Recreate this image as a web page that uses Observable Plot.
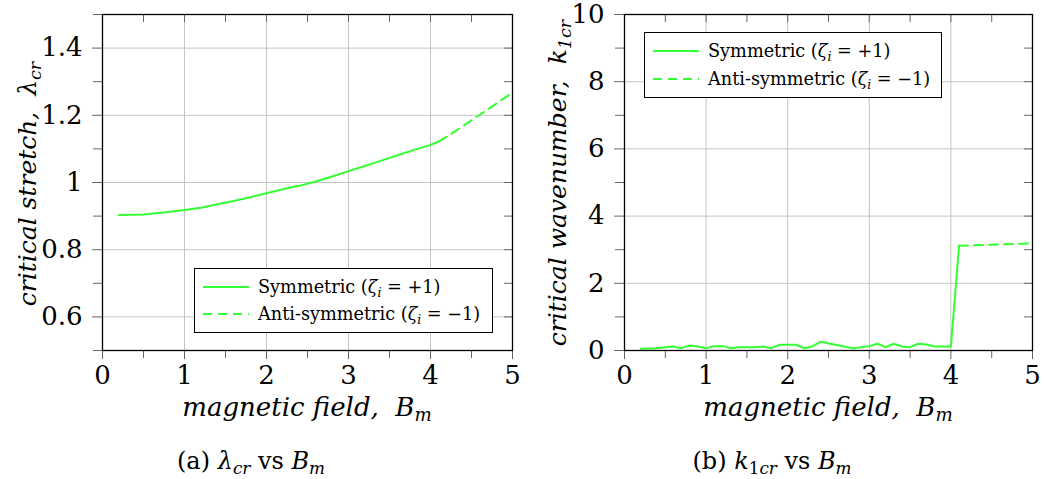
<!DOCTYPE html>
<html>
<head>
<meta charset="utf-8">
<script src="https://cdn.jsdelivr.net/npm/d3@7"></script>
<script src="https://cdn.jsdelivr.net/npm/@observablehq/plot@0.6"></script>
<style>
  body { margin: 0; background: #fff; }
  #wrap { position: relative; width: 1044px; height: 479px; overflow: hidden; font-family: "DejaVu Serif", serif; color: #000; }
  .panel { position: absolute; top: 0; }
  .xlab, .ylab, .cap { position: absolute; white-space: nowrap; line-height: 1; }
  .xlab { font-style: italic; font-size: 26px; transform: translateX(-50%); }
  .ylab { font-style: italic; font-size: 25px; transform: translate(-50%, -50%) rotate(-90deg); }
  .cap { font-size: 24px; transform: translateX(-50%); }
  sub { font-size: 70%; vertical-align: -0.3em; line-height: 0; }
  .legend { position: absolute; border: 1.3px solid #000; background: #fff; font-size: 17.7px; box-sizing: border-box; }
  .legend .row { position: absolute; left: 0; display: flex; align-items: center; white-space: nowrap; }
  .legend svg { display: block; margin-left: 8px; margin-right: 9px; }
</style>
</head>
<body>
<div id="wrap"></div>
<script>
// ---- data ----
const xTicks = [0, 1, 2, 3, 4, 5];
const xMinor = [0.5, 1.5, 2.5, 3.5, 4.5];

// panel (a): critical stretch lambda_cr vs B_m
const yTicksA = [0.6, 0.8, 1, 1.2, 1.4];
const yMinorA = [0.5, 0.7, 0.9, 1.1, 1.3, 1.5];
const bSymA = [0.2, 0.5, 0.8, 1.0, 1.2, 1.4, 1.6, 1.8, 2.0, 2.2, 2.3, 2.4, 2.6, 2.8, 3.0, 3.2, 3.4, 3.6, 3.8, 4.0, 4.1];
const lamSym = [0.903, 0.905, 0.912, 0.918, 0.925, 0.935, 0.945, 0.956, 0.968, 0.980, 0.986, 0.990, 1.003, 1.018, 1.034, 1.049, 1.065, 1.081, 1.097, 1.112, 1.122];
const bAntiA = [4.1, 4.3, 4.5, 4.7, 4.9, 5.0];
const lamAnti = [1.122, 1.152, 1.185, 1.218, 1.251, 1.268];

// panel (b): critical wavenumber k_1cr vs B_m
const yTicksB = [0, 2, 4, 6, 8, 10];
const yMinorB = [1, 3, 5, 7, 9];
const bSymB = [0.2, 0.38, 0.5, 0.6, 0.7, 0.8, 0.9, 1.0, 1.1, 1.2, 1.3, 1.4, 1.5, 1.6, 1.7, 1.8, 1.9, 2.0, 2.1, 2.2, 2.3, 2.4, 2.8, 3.0, 3.1, 3.2, 3.3, 3.4, 3.5, 3.6, 3.7, 3.8, 4.0, 4.1];
const kSym = [0.05, 0.07, 0.10, 0.12, 0.07, 0.15, 0.12, 0.07, 0.13, 0.13, 0.07, 0.10, 0.10, 0.10, 0.12, 0.07, 0.17, 0.17, 0.17, 0.07, 0.12, 0.26, 0.07, 0.13, 0.20, 0.10, 0.20, 0.12, 0.10, 0.20, 0.18, 0.12, 0.12, 3.12];
const bAntiB = [4.1, 4.5, 5.0];
const kAnti = [3.12, 3.15, 3.19];

const seriesNames = ["Symmetric", "Anti-symmetric"];
const green = "#33ff33";
const SERIF = "'DejaVu Serif', serif";

function rows(xs, ys) { return xs.map((x, i) => ({B: x, v: ys[i]})); }

function panel({yDomain, yTicks, yMinor, sym, anti, marginLeft}) {
  const tickStroke = "#666";
  const txt = {fontFamily: SERIF, fontSize: 26, fill: "#000"};
  return Plot.plot({
    width: 520, height: 400,
    marginLeft, marginRight: 8, marginTop: 14, marginBottom: 50,
    style: {fontFamily: SERIF, color: "#000", background: "transparent", overflow: "visible"},
    x: {domain: [0, 5]},
    y: {domain: yDomain},
    marks: [
      Plot.gridX(xTicks, {stroke: "#c4c4c4", strokeOpacity: 1, strokeWidth: 1}),
      Plot.gridY(yTicks, {stroke: "#c4c4c4", strokeOpacity: 1, strokeWidth: 1}),
      // bottom & left ticks (outside), with labels on majors
      Plot.axisX(xTicks, {anchor: "bottom", tickSize: 9, tickPadding: 6, ...txt, stroke: tickStroke, tickFormat: d => String(d), label: null}),
      Plot.axisX(xMinor, {anchor: "bottom", tickSize: 8, stroke: tickStroke, tickFormat: () => "", label: null}),
      Plot.axisY(yTicks, {anchor: "left", tickSize: 10, tickPadding: 10, ...txt, stroke: tickStroke, tickFormat: d => String(d), label: null}),
      Plot.axisY(yMinor, {anchor: "left", tickSize: 9, stroke: tickStroke, tickFormat: () => "", label: null}),
      // top & right ticks (inside)
      Plot.axisX(xTicks.concat(xMinor), {anchor: "top", tickSize: -7, stroke: tickStroke, tickFormat: () => "", label: null}),
      Plot.axisY(yTicks.concat(yMinor), {anchor: "right", tickSize: -9, stroke: tickStroke, tickFormat: () => "", label: null}),
      Plot.line(sym, {x: "B", y: "v", stroke: green, strokeWidth: 2}),
      Plot.line(anti, {x: "B", y: "v", stroke: green, strokeWidth: 2, strokeDasharray: "9,6"}),
      Plot.frame({stroke: "#000", strokeWidth: 1.3})
    ]
  });
}

const wrap = document.getElementById("wrap");

const pA = panel({yDomain: [0.5, 1.5], yTicks: yTicksA, yMinor: yMinorA, sym: rows(bSymA, lamSym), anti: rows(bAntiA, lamAnti), marginLeft: 102});
const dA = document.createElement("div"); dA.className = "panel"; dA.style.left = "0px"; dA.appendChild(pA); wrap.appendChild(dA);

const pB = panel({yDomain: [0, 10], yTicks: yTicksB, yMinor: yMinorB, sym: rows(bSymB, kSym), anti: rows(bAntiB, kAnti), marginLeft: 104});
const dB = document.createElement("div"); dB.className = "panel"; dB.style.left = "520px"; dB.appendChild(pB); wrap.appendChild(dB);

function addHTML(cls, html, left, top) {
  const d = document.createElement("div");
  d.className = cls; d.innerHTML = html;
  d.style.left = left + "px"; d.style.top = top + "px";
  wrap.appendChild(d);
  return d;
}

// axis titles
const xTitle = "magnetic field, &nbsp;B<sub>m</sub>";
addHTML("xlab", xTitle, 307, 394);
addHTML("xlab", xTitle, 828, 394);
addHTML("ylab", "critical stretch, &nbsp;λ<sub>cr</sub>", 27, 184);
addHTML("ylab", "critical wavenumber, &nbsp;k<sub>1cr</sub>", 557, 183);

// captions
addHTML("cap", "(a) <i>λ<sub>cr</sub></i> vs <i>B<sub>m</sub></i>", 251, 449);
addHTML("cap", "(b) <i>k</i><sub>1<i>cr</i></sub> vs <i>B<sub>m</sub></i>", 772, 449);

// legends
function legend(left, top, width, height, rowYs) {
  const box = document.createElement("div");
  box.className = "legend";
  Object.assign(box.style, {left: left + "px", top: top + "px", width: width + "px", height: height + "px"});
  const labels = [
    seriesNames[0] + " (<i>ζ<sub>i</sub></i> = +1)",
    seriesNames[1] + " (<i>ζ<sub>i</sub></i> = −1)"
  ];
  labels.forEach((lab, i) => {
    const r = document.createElement("div");
    r.className = "row";
    r.style.top = (rowYs[i] - 12) + "px";
    r.style.height = "24px";
    const dash = i === 1 ? ' stroke-dasharray="9,6"' : "";
    r.innerHTML = `<svg width="46" height="6"><line x1="0" y1="3" x2="46" y2="3" stroke="${green}" stroke-width="2"${dash}/></svg><span>${lab}</span>`;
    box.appendChild(r);
  });
  wrap.appendChild(box);
}
legend(194, 268, 299, 65, [18, 45]);
legend(644, 32, 298, 66, [18, 46]);
</script>
</body>
</html>
